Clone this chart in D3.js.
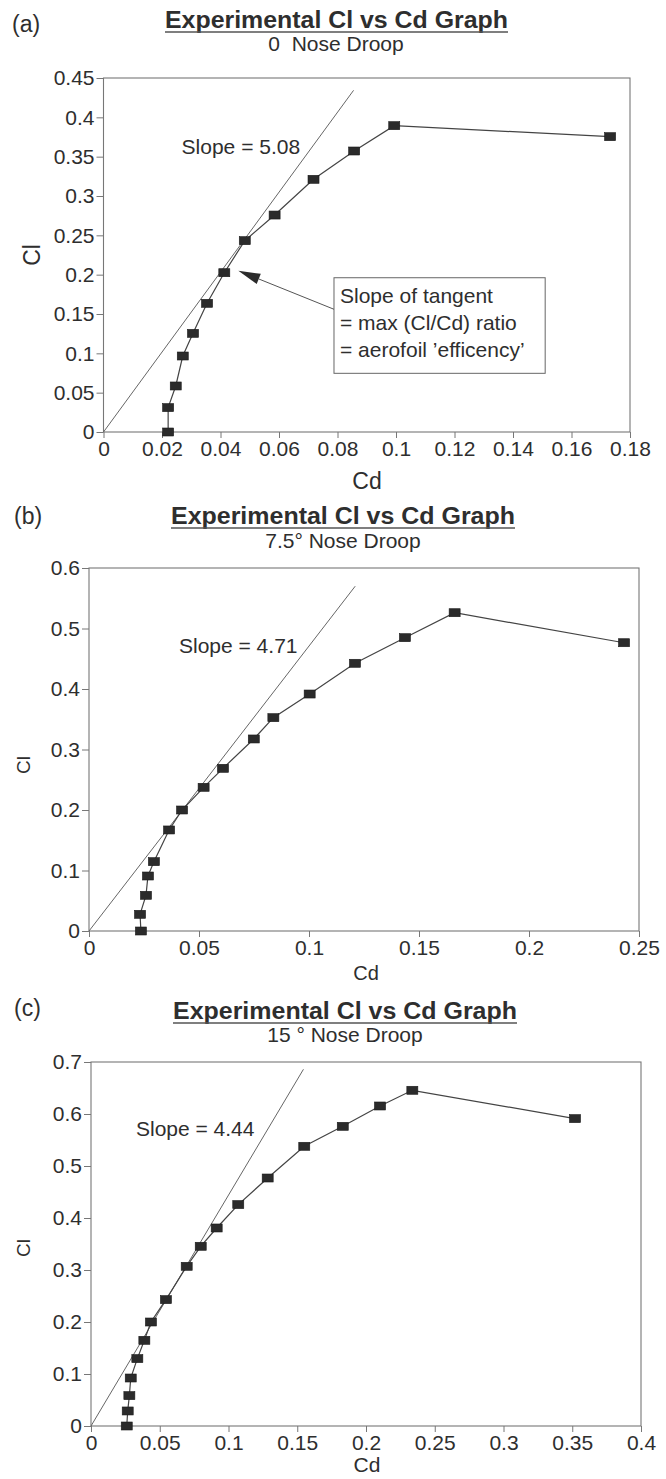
<!DOCTYPE html>
<html>
<head>
<meta charset="utf-8">
<script src="https://cdn.jsdelivr.net/npm/d3@7"></script>
<style>
  body { margin: 0; background: #fff; }
  svg { display: block; }
  text { font-family: 'Liberation Sans', Arial, Helvetica, sans-serif; fill: #2e2e2e; }
  .domain { display: none; }
  .tick line { stroke: #777; }
</style>
</head>
<body>
<svg id="chart" width="666" height="1479"></svg>
<script>
// (a) 0 nose droop
const cdA = [0.0221, 0.0221, 0.0247, 0.0271, 0.0306, 0.0354, 0.0413, 0.0483, 0.0585, 0.0718, 0.0857, 0.0994, 0.1732];
const clA = [0, 0.031, 0.0585, 0.0966, 0.1254, 0.1636, 0.2025, 0.2432, 0.2758, 0.3212, 0.3572, 0.3894, 0.3754];
// (b) 7.5 deg nose droop
const cdB = [0.0236, 0.0232, 0.0259, 0.0268, 0.0295, 0.0364, 0.0423, 0.0521, 0.0609, 0.0749, 0.0838, 0.1003, 0.1209, 0.1436, 0.1662, 0.2432];
const clB = [0, 0.0276, 0.059, 0.0909, 0.1146, 0.167, 0.2, 0.2375, 0.2689, 0.3174, 0.3526, 0.3917, 0.4425, 0.4848, 0.5261, 0.4765];
// (c) 15 deg nose droop
const cdC = [0.026, 0.0267, 0.0279, 0.0289, 0.0337, 0.0388, 0.0436, 0.0545, 0.0696, 0.0798, 0.0914, 0.1071, 0.1285, 0.1551, 0.1831, 0.2102, 0.2337, 0.352];
const clC = [0, 0.0289, 0.0584, 0.0923, 0.1296, 0.1648, 0.2, 0.243, 0.3071, 0.3456, 0.3808, 0.4258, 0.4769, 0.5379, 0.5763, 0.6154, 0.6456, 0.5911];

// tangent slopes and where each tangent line stops (Cd)
const slopes = [5.08, 4.71, 4.44];
const tangentEnd = [0.0855, 0.121, 0.1545];

const xTicksA = [0, 0.02, 0.04, 0.06, 0.08, 0.1, 0.12, 0.14, 0.16, 0.18];
const yTicksA = [0, 0.05, 0.1, 0.15, 0.2, 0.25, 0.3, 0.35, 0.4, 0.45];
const xTicksB = [0, 0.05, 0.1, 0.15, 0.2, 0.25];
const yTicksB = [0, 0.1, 0.2, 0.3, 0.4, 0.5, 0.6];
const xTicksC = [0, 0.05, 0.1, 0.15, 0.2, 0.25, 0.3, 0.35, 0.4];
const yTicksC = [0, 0.1, 0.2, 0.3, 0.4, 0.5, 0.6, 0.7];

const titleText = 'Experimental Cl vs Cd Graph';
const panelLetters = ['(a)', '(b)', '(c)'];
const subtitles = ['0  Nose Droop', '7.5\u00b0 Nose Droop', '15 \u00b0 Nose Droop'];
const noteLines = ['Slope of tangent', '= max (Cl/Cd) ratio', '= aerofoil \u2019efficency\u2019'];

const svg = d3.select('#chart');
const fmt = d3.format('~g');

const panels = [
    {
        cd: cdA, cl: clA, xTicks: xTicksA, yTicks: yTicksA,
        box: { left: 103.5, right: 630, top: 78, bottom: 432 },
        letter: { x: 12, y: 32 },
        title: { x0: 165, x1: 508, y: 27.5 },
        sub: { x: 336, y: 51 },
        slopeAt: [0.0267, 0.3534],
        ylab: { x: 40, y: 255, size: 23 },
        xlab: { x: 367, y: 489, size: 23 },
        note: true
    },
    {
        cd: cdB, cl: clB, xTicks: xTicksB, yTicks: yTicksB,
        box: { left: 89, right: 639, top: 568, bottom: 931 },
        letter: { x: 14, y: 524 },
        title: { x0: 171, x1: 515, y: 523.5 },
        sub: { x: 343, y: 548 },
        slopeAt: [0.0409, 0.46],
        ylab: { x: 30, y: 765, size: 19 },
        xlab: { x: 366, y: 980, size: 20 }
    },
    {
        cd: cdC, cl: clC, xTicks: xTicksC, yTicks: yTicksC,
        box: { left: 91, right: 641, top: 1062, bottom: 1426 },
        letter: { x: 14, y: 1016 },
        title: { x0: 173, x1: 517, y: 1018.5 },
        sub: { x: 345, y: 1042 },
        slopeAt: [0.0327, 0.5577],
        ylab: { x: 30, y: 1248, size: 19 },
        xlab: { x: 367, y: 1472, size: 21 }
    }
];

function drawPanel(p, i) {
    const b = p.box;
    const x = d3.scaleLinear()
        .domain([0, p.xTicks[p.xTicks.length - 1]])
        .range([b.left, b.right]);
    const y = d3.scaleLinear()
        .domain([0, p.yTicks[p.yTicks.length - 1]])
        .range([b.bottom, b.top]);

    const g = svg.append('g');

    // headings
    g.append('text')
        .attr('x', p.letter.x).attr('y', p.letter.y)
        .attr('font-size', 23)
        .text(panelLetters[i]);

    g.append('text')
        .attr('x', p.title.x0).attr('y', p.title.y)
        .attr('font-size', 23).attr('font-weight', 'bold')
        .attr('textLength', p.title.x1 - p.title.x0)
        .attr('lengthAdjust', 'spacingAndGlyphs')
        .text(titleText);
    g.append('line')
        .attr('x1', p.title.x0).attr('x2', p.title.x1)
        .attr('y1', p.title.y + 4.5).attr('y2', p.title.y + 4.5)
        .attr('stroke', '#555').attr('stroke-width', 1.6);

    g.append('text')
        .attr('x', p.sub.x).attr('y', p.sub.y)
        .attr('text-anchor', 'middle')
        .attr('font-size', 21)
        .attr('xml:space', 'preserve')
        .style('white-space', 'pre')
        .text(subtitles[i]);

    // axes
    const xAxis = g.append('g')
        .attr('transform', `translate(0,${b.bottom})`)
        .call(d3.axisBottom(x).tickValues(p.xTicks).tickFormat(fmt).tickSize(6).tickPadding(3).tickSizeOuter(0));
    const yAxis = g.append('g')
        .attr('transform', `translate(${b.left},0)`)
        .call(d3.axisLeft(y).tickValues(p.yTicks).tickFormat(fmt).tickSize(7).tickPadding(2).tickSizeOuter(0));
    [xAxis, yAxis].forEach(a => a.selectAll('text')
        .attr('font-size', 21)
        .attr('font-family', "'Liberation Sans', Arial, sans-serif")
        .attr('fill', '#2e2e2e'));

    // plot frame
    g.append('rect')
        .attr('x', b.left).attr('y', b.top)
        .attr('width', b.right - b.left).attr('height', b.bottom - b.top)
        .attr('fill', 'none').attr('stroke', '#777').attr('stroke-width', 1.1);

    // axis titles
    g.append('text')
        .attr('transform', `translate(${p.ylab.x},${p.ylab.y}) rotate(-90)`)
        .attr('text-anchor', 'middle')
        .attr('font-size', p.ylab.size)
        .text('Cl');
    g.append('text')
        .attr('x', p.xlab.x).attr('y', p.xlab.y)
        .attr('text-anchor', 'middle')
        .attr('font-size', p.xlab.size)
        .text('Cd');

    // tangent line through origin
    g.append('line')
        .attr('x1', x(0)).attr('y1', y(0))
        .attr('x2', x(tangentEnd[i])).attr('y2', y(tangentEnd[i] * slopes[i]))
        .attr('stroke', '#666').attr('stroke-width', 1);

    g.append('text')
        .attr('x', x(p.slopeAt[0])).attr('y', y(p.slopeAt[1]))
        .attr('font-size', 21)
        .text('Slope = ' + slopes[i].toFixed(2));

    // data line + markers
    const pts = p.cd.map((d, k) => [d, p.cl[k]]);
    g.append('path')
        .datum(pts)
        .attr('d', d3.line().x(d => x(d[0])).y(d => y(d[1])))
        .attr('fill', 'none').attr('stroke', '#444').attr('stroke-width', 1.2);

    g.selectAll('rect.pt')
        .data(pts)
        .enter()
        .append('rect')
        .attr('class', 'pt')
        .attr('x', d => x(d[0]) - 5.5)
        .attr('y', d => y(d[1]) - 4)
        .attr('width', 11)
        .attr('height', 8)
        .attr('fill', '#2b2b2b')
        .attr('stroke', '#1a1a1a').attr('stroke-width', 0.6);

    if (p.note) drawNote(g, x, y);
}

// callout box and arrow of panel (a)
function drawNote(g, x, y) {
    const bx0 = x(0.0788), bx1 = x(0.151);
    const by0 = y(0.1961), by1 = y(0.0746);
    g.append('rect')
        .attr('x', bx0).attr('y', by0)
        .attr('width', bx1 - bx0).attr('height', by1 - by0)
        .attr('fill', '#fff').attr('stroke', '#666').attr('stroke-width', 1);
    noteLines.forEach((t, k) => {
        g.append('text')
            .attr('x', bx0 + 6).attr('y', by0 + 25.5 + k * 26.7)
            .attr('font-size', 21)
            .text(t);
    });

    const tail = [bx0, y(0.156)];
    const tip = [x(0.0461), y(0.205)];
    const ang = Math.atan2(tip[1] - tail[1], tip[0] - tail[0]);
    const len = 22, half = 5.5;
    const base = [tip[0] - len * Math.cos(ang), tip[1] - len * Math.sin(ang)];
    g.append('line')
        .attr('x1', tail[0]).attr('y1', tail[1])
        .attr('x2', base[0]).attr('y2', base[1])
        .attr('stroke', '#555').attr('stroke-width', 1);
    const nx = -Math.sin(ang), ny = Math.cos(ang);
    g.append('path')
        .attr('d', `M${tip[0]},${tip[1]}L${base[0] + nx * half},${base[1] + ny * half}L${base[0] - nx * half},${base[1] - ny * half}Z`)
        .attr('fill', '#2b2b2b');
}

panels.forEach(drawPanel);
</script>
</body>
</html>
